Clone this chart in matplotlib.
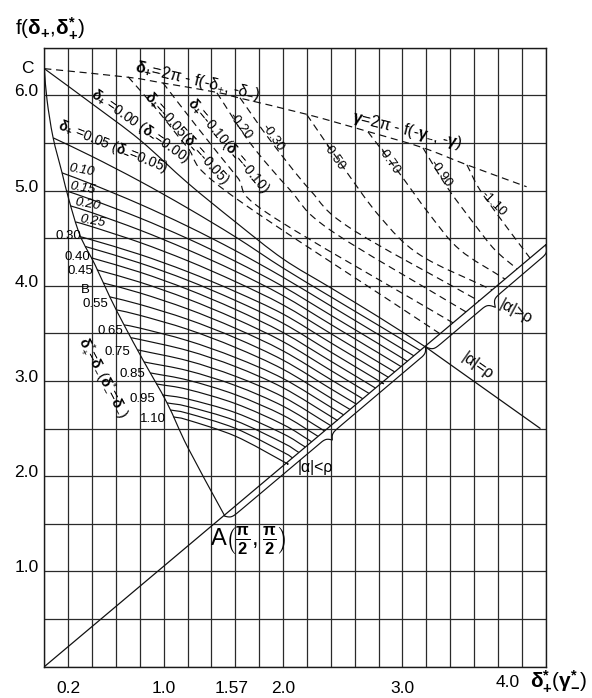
import numpy as np
import matplotlib
matplotlib.use('Agg')
import matplotlib.pyplot as plt
from matplotlib.path import Path
from matplotlib.patches import PathPatch
from matplotlib.transforms import ScaledTranslation

plt.rcParams['font.family'] = ['Liberation Sans', 'DejaVu Sans']
plt.rcParams['mathtext.fontset'] = 'custom'
plt.rcParams['mathtext.rm'] = 'Liberation Sans'
plt.rcParams['mathtext.it'] = 'Liberation Sans:italic'
plt.rcParams['mathtext.bf'] = 'Liberation Sans:bold'

# ---------------- data ----------------
X_TICKS = [0.2, 1.0, 1.57, 2.0, 3.0, 4.0]
X_TICK_LABELS = ['0.2', '1.0', '1.57', '2.0', '3.0', '4.0']
Y_TICKS = [1.0, 2.0, 3.0, 4.0, 5.0, 6.0]
Y_TICK_LABELS = ['1.0', '2.0', '3.0', '4.0', '5.0', '6.0']

# left boundary curve C -> B -> A
BOUNDARY_X = [0.0, 0.023, 0.073, 0.148, 0.207, 0.299, 0.425, 0.550, 0.676, 0.827, 1.028, 1.203, 1.513]
BOUNDARY_Y = [6.28, 5.95, 5.56, 5.19, 4.90, 4.53, 4.22, 3.88, 3.57, 3.22, 2.77, 2.30, 1.58]

# straight line through the origin
DIAG_X = [0.0, 4.2]
DIAG_Y = [0.0, 4.43]

# |alpha| = rho line beyond P
RHO_X = [3.193, 4.152]
RHO_Y = [3.358, 2.504]

# solid family delta+ = 0.00 ... 1.10
SOLID_VALUES = [0.00, 0.05, 0.10, 0.15, 0.20, 0.25, 0.30, 0.35, 0.40, 0.45, 0.50, 0.55,
                0.60, 0.65, 0.70, 0.75, 0.80, 0.85, 0.90, 0.95, 1.00, 1.05, 1.10]
SOLID_X = [
    [0.0, 0.4, 0.8, 1.2, 1.6, 2.0, 2.4, 2.8, 3.193],
    [0.075, 0.4, 0.8, 1.2, 1.6, 2.0, 2.4, 2.8, 3.148],
    [0.148, 0.4, 0.8, 1.2, 1.6, 2.0, 2.4, 2.8, 3.095],
    [0.183, 0.4, 0.8, 1.2, 1.6, 2.0, 2.4, 2.8, 3.041],
    [0.219, 0.4, 0.8, 1.2, 1.6, 2.0, 2.4, 2.8, 2.988],
    [0.261, 0.4, 0.8, 1.2, 1.6, 2.0, 2.4, 2.8, 2.935],
    [0.303, 0.4, 0.8, 1.2, 1.6, 2.0, 2.4, 2.8, 2.881],
    [0.349, 0.4, 0.8, 1.2, 1.6, 2.0, 2.4, 2.8, 2.827],
    [0.395, 0.8, 1.2, 1.6, 2.0, 2.4, 2.774],
    [0.441, 0.8, 1.2, 1.6, 2.0, 2.4, 2.720],
    [0.492, 0.8, 1.2, 1.6, 2.0, 2.4, 2.667],
    [0.550, 0.8, 1.2, 1.6, 2.0, 2.4, 2.614],
    [0.605, 0.8, 1.2, 1.6, 2.0, 2.4, 2.560],
    [0.668, 0.8, 1.2, 1.6, 2.0, 2.4, 2.507],
    [0.726, 0.8, 1.2, 1.6, 2.0, 2.4, 2.453],
    [0.781, 1.2, 1.6, 2.0, 2.400],
    [0.835, 1.2, 1.6, 2.0, 2.347],
    [0.888, 1.2, 1.6, 2.0, 2.293],
    [0.939, 1.2, 1.6, 2.0, 2.240],
    [0.990, 1.2, 1.6, 2.0, 2.186],
    [1.028, 1.2, 1.6, 2.0, 2.132],
    [1.055, 1.2, 1.6, 2.0, 2.079],
    [1.082, 1.2, 1.6, 2.0, 2.026],
]
SOLID_Y = [
    [6.28, 5.911, 5.532, 5.081, 4.671, 4.282, 3.978, 3.673, 3.358],
    [5.553, 5.358, 5.098, 4.816, 4.514, 4.186, 3.884, 3.584, 3.321],
    [5.186, 5.066, 4.857, 4.625, 4.369, 4.089, 3.788, 3.487, 3.265],
    [4.997, 4.903, 4.712, 4.496, 4.257, 3.992, 3.691, 3.391, 3.208],
    [4.839, 4.767, 4.585, 4.379, 4.152, 3.896, 3.594, 3.294, 3.152],
    [4.671, 4.620, 4.455, 4.263, 4.044, 3.799, 3.498, 3.197, 3.096],
    [4.514, 4.481, 4.329, 4.148, 3.939, 3.703, 3.401, 3.101, 3.040],
    [4.408, 4.392, 4.239, 4.058, 3.846, 3.606, 3.304, 3.004, 2.983],
    [4.293, 4.143, 3.963, 3.752, 3.509, 3.208, 2.926],
    [4.167, 4.038, 3.862, 3.654, 3.413, 3.111, 2.870],
    [4.030, 3.925, 3.757, 3.554, 3.316, 3.015, 2.814],
    [3.883, 3.804, 3.648, 3.453, 3.219, 2.918, 2.757],
    [3.747, 3.690, 3.543, 3.353, 3.123, 2.821, 2.702],
    [3.589, 3.556, 3.424, 3.247, 3.026, 2.725, 2.645],
    [3.453, 3.436, 3.320, 3.152, 2.929, 2.628, 2.588],
    [3.327, 3.213, 3.050, 2.833, 2.531],
    [3.200, 3.109, 2.953, 2.736, 2.476],
    [3.085, 3.010, 2.857, 2.640, 2.419],
    [2.969, 2.912, 2.763, 2.543, 2.362],
    [2.854, 2.811, 2.668, 2.446, 2.307],
    [2.770, 2.732, 2.584, 2.350, 2.250],
    [2.696, 2.661, 2.503, 2.253, 2.193],
    [2.623, 2.591, 2.421, 2.156, 2.137],
]
SOLID_LABELS = ['0.10', '0.15', '0.20', '0.25', '0.30', '0.40', '0.45', 'B',
                '0.55', '0.65', '0.75', '0.85', '0.95', '1.10']
SOLID_LABEL_X = [0.316, 0.324, 0.367, 0.408, 0.198, 0.274, 0.299, 0.341,
                 0.425, 0.550, 0.609, 0.735, 0.818, 0.910]
SOLID_LABEL_Y = [5.217, 5.028, 4.860, 4.682, 4.524, 4.304, 4.157, 3.957,
                 3.810, 3.526, 3.306, 3.075, 2.812, 2.602]

# upper dashed curve delta+ = 2pi - f(-delta+, -delta-)
TOP_X = [0.0, 0.70, 0.99, 1.45, 1.64, 2.20, 2.71, 3.17, 3.54, 4.04]
TOP_Y = [6.28, 6.19, 6.13, 6.03, 5.97, 5.80, 5.62, 5.45, 5.27, 5.04]

# dashed family delta+ = -0.05 ... -1.10
DASHED_VALUES = [-0.05, -0.10, -0.20, -0.30, -0.50, -0.70, -0.90, -1.10]
DASHED_X = [
    [0.702, 0.944, 1.195, 1.530, 3.314],
    [0.994, 1.279, 1.614, 1.865, 3.423],
    [1.446, 1.723, 2.058, 2.393, 3.532],
    [1.639, 1.890, 2.225, 2.560, 3.641],
    [2.200, 2.502, 2.812, 3.147, 3.750],
    [2.711, 2.954, 3.230, 3.482, 3.859],
    [3.172, 3.372, 3.607, 3.775, 3.960],
    [3.540, 3.649, 3.859, 4.068],
]
DASHED_Y = [
    [6.194, 5.848, 5.459, 4.986, 3.497],
    [6.131, 5.669, 5.144, 4.766, 3.611],
    [6.026, 5.501, 5.007, 4.587, 3.726],
    [5.974, 5.532, 5.007, 4.608, 3.841],
    [5.795, 5.249, 4.724, 4.324, 3.956],
    [5.616, 5.217, 4.745, 4.377, 4.070],
    [5.448, 5.039, 4.640, 4.377, 4.177],
    [5.270, 5.007, 4.640, 4.292],
]
DASHED_LABEL_X = [1.195, 1.538, 1.641, 1.915, 2.426, 2.887, 3.322, 3.758]
DASHED_LABEL_Y = [5.553, 5.469, 5.679, 5.553, 5.353, 5.311, 5.175, 4.860]

POINT_C = (0.0, 6.28)
POINT_A = (1.513, 1.58)
POINT_P = (3.193, 3.358)
DIAG_END = (4.2, 4.43)

# ---------------- figure ----------------
W, H = 592, 698
fig = plt.figure(figsize=(W / 100, H / 100), dpi=100)
ax = fig.add_axes([44.3 / W, 1 - 666.7 / H, (545.7 - 44.3) / W, (666.7 - 47.7) / H])
ax.set_xlim(0, 4.2)
ax.set_ylim(0, 6.5)
for s in ax.spines.values():
    s.set_linewidth(1.0)
    s.set_color('#1a1a1a')

GRID_X = np.round(np.arange(0, 4.2001, 0.2), 3)
GRID_Y = np.round(np.arange(0, 6.5001, 0.5), 3)
ax.vlines(GRID_X, 0, 6.5, colors='#2a2a2a', linewidth=0.9, zorder=1)
ax.hlines(GRID_Y, 0, 4.2, colors='#2a2a2a', linewidth=0.9, zorder=1)

ax.set_xticks(X_TICKS)
ax.set_xticklabels(X_TICK_LABELS)
ax.set_yticks(Y_TICKS)
ax.set_yticklabels(Y_TICK_LABELS)
ax.tick_params(axis='both', length=0, labelsize=12.5)
ax.tick_params(axis='x', pad=10)
ax.tick_params(axis='y', pad=4)
for lab in ax.get_yticklabels():
    lab.set_transform(lab.get_transform() + ScaledTranslation(0, 5 / 100, fig.dpi_scale_trans))
xl = ax.get_xticklabels()
xl[-1].set_transform(xl[-1].get_transform() + ScaledTranslation(-14 / 100, 6 / 100, fig.dpi_scale_trans))


def smooth(xs, ys, **kw):
    pts = np.column_stack([xs, ys]).astype(float)
    n = len(pts)
    if n <= 2:
        ax.plot(pts[:, 0], pts[:, 1], **kw)
        return
    ext = np.vstack([pts[0] - (pts[1] - pts[0]), pts, pts[-1] + (pts[-1] - pts[-2])])
    verts = [pts[0]]
    codes = [Path.MOVETO]
    for i in range(1, n):
        p0, p1, p2, p3 = ext[i - 1], ext[i], ext[i + 1], ext[i + 2]
        c1 = p1 + (p2 - p0) / 6.0
        c2 = p2 - (p3 - p1) / 6.0
        verts += [c1, c2, p2]
        codes += [Path.CURVE4] * 3
    ls = kw.pop('linestyle', '-')
    ax.add_patch(PathPatch(Path(verts, codes), fill=False, linestyle=ls, **kw))


LINE = dict(edgecolor='#111111', linewidth=0.85, zorder=3)

ax.plot(DIAG_X, DIAG_Y, color='#111111', lw=0.9, zorder=3)
smooth(BOUNDARY_X, BOUNDARY_Y, **LINE)
ax.plot(RHO_X, RHO_Y, color='#111111', lw=0.9, zorder=3)
for xs, ys in zip(SOLID_X, SOLID_Y):
    smooth(xs, ys, **LINE)

DASH = (0, (6, 4))
smooth(TOP_X, TOP_Y, linestyle=DASH, **LINE)
for xs, ys in zip(DASHED_X, DASHED_Y):
    smooth(xs, ys, linestyle=DASH, **LINE)


def brace(p0, p1, amp_px):
    a = ax.transData.transform(p0)
    b = ax.transData.transform(p1)
    d = b - a
    L = np.hypot(*d)
    u = d / L
    nrm = np.array([u[1], -u[0]])
    beta = 4 * L / 8.0
    xh = np.linspace(0, 0.5, 150)
    yh = 1 / (1 + np.exp(-beta * (xh - xh[0]))) + 1 / (1 + np.exp(-beta * (xh - xh[-1])))
    xs = np.concatenate([xh, 1 - xh[-2::-1]])
    ys = np.concatenate([yh, yh[-2::-1]]) - 0.5
    pts = a + np.outer(xs * L, u) + np.outer(ys * amp_px, nrm)
    dp = ax.transData.inverted().transform(pts)
    ax.plot(dp[:, 0], dp[:, 1], color='#111111', lw=0.85, zorder=3)


brace(POINT_A, POINT_P, 11)
brace(POINT_P, DIAG_END, 15)

# ---------------- texts ----------------
NARROW = ['Liberation Sans Narrow', 'Liberation Sans', 'DejaVu Sans']
for t, x, y, i in zip(SOLID_LABELS, SOLID_LABEL_X, SOLID_LABEL_Y, range(len(SOLID_LABELS))):
    rot = -10 if i < 4 else 0
    ax.text(x, y, t, fontsize=9.5, family=NARROW, rotation=rot, ha='center', va='center',
            style='italic' if i < 4 else 'normal', zorder=5)

ax.text(*POINT_C, 'C  ', fontsize=12.5, ha='right', va='center')
ax.text(0.575, 5.459, r'$\mathbf{δ}_{\mathbf{+}}$ =0.05 ($\mathbf{δ}_{\mathbf{-}}$=0.05)',
        fontsize=10, family=NARROW, rotation=-22, ha='center', va='center', rotation_mode='anchor')
ax.text(0.802, 5.669, r'$\mathbf{δ}_{\mathbf{+}}$ =0.00 ($\mathbf{δ}_{\mathbf{-}}$=0.00)',
        fontsize=10, family=NARROW, rotation=-35, ha='center', va='center', rotation_mode='anchor')
ax.text(DASHED_LABEL_X[0], DASHED_LABEL_Y[0],
        r'$\mathbf{δ}_{\mathbf{+}}$=-0.05($\mathbf{δ}_{\mathbf{-}}$=-0.05)',
        fontsize=10, family=NARROW, rotation=-48, ha='center', va='center', rotation_mode='anchor')
ax.text(DASHED_LABEL_X[1], DASHED_LABEL_Y[1],
        r'$\mathbf{δ}_{\mathbf{+}}$=-0.10($\mathbf{δ}_{\mathbf{-}}$=-0.10)',
        fontsize=10, family=NARROW, rotation=-50, ha='center', va='center', rotation_mode='anchor')
DASH_ROT = [-52, -55, -55, -55, -55, -45]
for v, x, y, r in zip(DASHED_VALUES[2:], DASHED_LABEL_X[2:], DASHED_LABEL_Y[2:], DASH_ROT):
    ax.text(x, y, '%.2f' % v, fontsize=9.5, family=NARROW, rotation=r, ha='center',
            va='center', rotation_mode='anchor')

ax.text(1.287, 6.152, r'$\mathbf{δ}_{\mathbf{+}}$=2π - f(-δ$_{+}$, -δ$_{-}$)',
        fontsize=11.5, family=NARROW, rotation=-13, ha='center', va='center', rotation_mode='anchor')
ax.text(3.040, 5.626, r'$\mathbf{γ}$=2π - f(-$\mathbf{γ}_{-}$, -$\mathbf{γ}$)',
        fontsize=11.5, family=NARROW, rotation=-14, ha='center', va='center', rotation_mode='anchor')
ax.text(0.492, 3.030, r'$\mathbf{δ}^{*}_{+}$=$\mathbf{δ}_{-}$($\mathbf{δ}^{*}_{-}$=$\mathbf{δ}_{-}$)',
        fontsize=10.5, family=NARROW, rotation=-62, ha='center', va='center', rotation_mode='anchor')
ax.text(3.632, 3.156, r'|α|=ρ', fontsize=11.5, rotation=-35, ha='center', va='center',
        rotation_mode='anchor')
ax.text(3.951, 3.726, r'|α|>ρ', fontsize=11.5, rotation=-28, ha='center', va='center',
        rotation_mode='anchor')
ax.text(2.267, 2.087, r'|α|<ρ', fontsize=11.5, ha='center', va='center')
ax.text(1.706, 1.320, r'A$\left(\frac{\mathbf{π}}{\mathbf{2}},\frac{\mathbf{π}}{\mathbf{2}}\right)$',
        fontsize=17, ha='center', va='center')

fig.text(50 / W, 1 - 28 / H, r'f($\mathbf{δ}_{\mathbf{+}}$,$\mathbf{δ}^{\mathbf{*}}_{\mathbf{+}}$)',
         fontsize=15, ha='center', va='center')
fig.text(559 / W, 1 - 681 / H, r'$\mathbf{δ}^{\mathbf{*}}_{\mathbf{+}}$($\mathbf{γ}^{\mathbf{*}}_{\mathbf{-}}$)',
         fontsize=15, ha='center', va='center')

fig.savefig('out.png', dpi=100)
